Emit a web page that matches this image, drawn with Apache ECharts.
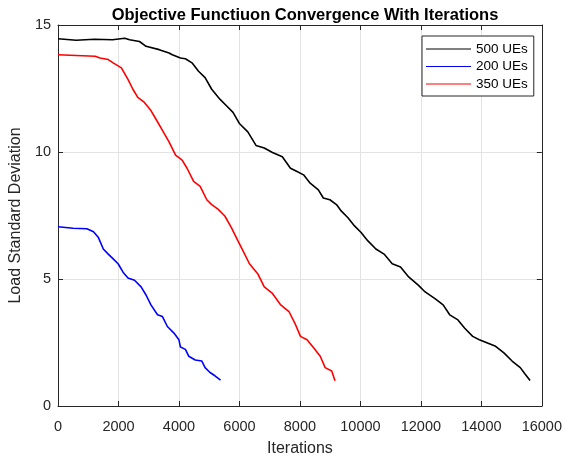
<!DOCTYPE html>
<html>
<head>
<meta charset="utf-8">
<script src="https://cdn.jsdelivr.net/npm/echarts@6/dist/echarts.min.js"></script>
<style>
html,body{margin:0;padding:0;background:#fff;}
#c{width:565px;height:462px;}
</style>
</head>
<body>
<div id="c"></div>
<script>
const titleText = 'Objective Functiuon Convergence With Iterations';
const xName = 'Iterations';
const yName = 'Load Standard Deviation';
const seriesNames = ['500 UEs', '200 UEs', '350 UEs'];
const xTicks = [0, 2000, 4000, 6000, 8000, 10000, 12000, 14000, 16000];
const yTicks = [0, 5, 10, 15];

const ue500X = [0, 600, 1200, 1800, 2205, 2368, 2694, 2910, 3345, 3671, 3779, 4049, 4212, 4430, 4647, 4863, 5082, 5353, 5570, 5787, 6005, 6276, 6547, 6820, 7092, 7418, 7687, 7904, 8120, 8339, 8610, 8773, 8990, 9208, 9371, 9588, 9805, 10023, 10240, 10512, 10782, 11052, 11326, 11596, 11922, 12140, 12466, 12736, 12953, 13225, 13443, 13713, 13932, 14202, 14472, 14746, 15016, 15287, 15450, 15612];
const ue500Y = [14.46, 14.4, 14.44, 14.42, 14.48, 14.42, 14.35, 14.16, 14.03, 13.9, 13.83, 13.7, 13.67, 13.51, 13.18, 12.93, 12.47, 12.08, 11.82, 11.56, 11.11, 10.79, 10.26, 10.16, 9.98, 9.81, 9.36, 9.23, 9.1, 8.77, 8.51, 8.19, 8.12, 7.93, 7.67, 7.41, 7.09, 6.83, 6.51, 6.18, 5.98, 5.6, 5.47, 5.08, 4.75, 4.49, 4.23, 3.98, 3.59, 3.39, 3.07, 2.74, 2.61, 2.48, 2.35, 2.09, 1.77, 1.51, 1.25, 1.0];

const ue200X = [0, 500, 955, 1173, 1336, 1498, 1661, 1824, 1987, 2150, 2313, 2530, 2747, 2910, 3073, 3290, 3453, 3616, 3834, 3997, 4049, 4212, 4322, 4539, 4756, 4863, 5026, 5189, 5375];
const ue200Y = [7.06, 7.0, 6.98, 6.86, 6.63, 6.18, 5.98, 5.79, 5.6, 5.27, 5.04, 4.95, 4.69, 4.37, 3.98, 3.59, 3.52, 3.13, 2.87, 2.61, 2.32, 2.23, 1.96, 1.81, 1.77, 1.51, 1.32, 1.19, 1.02];

const ue350X = [0, 600, 1228, 1390, 1661, 1824, 2095, 2313, 2476, 2638, 2856, 3073, 3236, 3453, 3671, 3888, 4104, 4267, 4484, 4701, 4919, 5082, 5299, 5516, 5733, 5950, 6114, 6330, 6603, 6820, 7092, 7365, 7637, 7855, 8018, 8235, 8453, 8671, 8834, 9051, 9159];
const ue350Y = [13.83, 13.8, 13.77, 13.7, 13.64, 13.51, 13.31, 12.86, 12.47, 12.15, 11.95, 11.63, 11.3, 10.85, 10.4, 9.88, 9.68, 9.36, 8.84, 8.65, 8.12, 7.93, 7.74, 7.48, 7.02, 6.5, 6.12, 5.6, 5.21, 4.69, 4.43, 3.98, 3.72, 3.2, 2.74, 2.61, 2.29, 1.96, 1.51, 1.38, 0.99];

function zip(xs, ys) { return xs.map((x, i) => [x, ys[i]]); }

const axisColor = '#262626';
const gridColor = '#e3e3e3';
const font = '"Liberation Sans", Arial, Helvetica, sans-serif';

const chart = echarts.init(document.getElementById('c'), null, {renderer: 'canvas'});
const baseX = {
  type: 'value', min: xTicks[0], max: xTicks[xTicks.length - 1], interval: xTicks[1] - xTicks[0],
  axisLine: {show: true, onZero: false, lineStyle: {color: axisColor, width: 1}},
  axisTick: {show: true, inside: true, length: 5, lineStyle: {color: axisColor}},
};
const baseY = {
  type: 'value', min: yTicks[0], max: yTicks[yTicks.length - 1], interval: yTicks[1] - yTicks[0],
  axisLine: {show: true, onZero: false, lineStyle: {color: axisColor, width: 1}},
  axisTick: {show: true, inside: true, length: 5, lineStyle: {color: axisColor}},
};
chart.setOption({
  animation: false,
  backgroundColor: '#ffffff',
  title: {
    text: titleText, left: 300, top: 2, textAlign: 'center',
    textStyle: {fontFamily: font, fontSize: 16.5, fontWeight: 'bold', color: '#000'}
  },
  grid: {left: 54, right: 20, top: 25, bottom: 52, containLabel: false},
  legend: {
    data: seriesNames.map(n => ({name: n, icon: 'rect'})), orient: 'vertical', left: 422, top: 36,
    backgroundColor: '#fff', borderColor: axisColor, borderWidth: 1,
    padding: [6, 6, 5, 4], itemWidth: 45, itemHeight: 1.2, itemGap: 3.5,
    textStyle: {fontFamily: font, fontSize: 13.5, color: '#000', lineHeight: 14, height: 14}
  },
  xAxis: [
    Object.assign({}, baseX, {
      position: 'bottom', name: xName, nameLocation: 'middle', nameGap: 35,
      nameTextStyle: {fontFamily: font, fontSize: 16, color: axisColor},
      axisLabel: {fontFamily: font, fontSize: 14.5, color: axisColor, margin: 13, formatter: v => String(v)},
      splitLine: {show: true, lineStyle: {color: gridColor, width: 1}}
    }),
    Object.assign({}, baseX, {position: 'top', axisLabel: {show: false}, splitLine: {show: false}})
  ],
  yAxis: [
    Object.assign({}, baseY, {
      position: 'left', name: yName, nameLocation: 'middle', nameGap: 28, nameRotate: 90,
      nameTextStyle: {fontFamily: font, fontSize: 16, color: axisColor},
      axisLabel: {fontFamily: font, fontSize: 14.5, color: axisColor, margin: 7, formatter: v => String(v)},
      splitLine: {show: true, lineStyle: {color: gridColor, width: 1}}
    }),
    Object.assign({}, baseY, {position: 'right', axisLabel: {show: false}, splitLine: {show: false}})
  ],
  series: [
    {name: seriesNames[0], type: 'line', data: zip(ue500X, ue500Y), symbol: 'none', lineStyle: {color: '#000000', width: 1.6}, itemStyle: {color: '#000000'}},
    {name: seriesNames[1], type: 'line', data: zip(ue200X, ue200Y), symbol: 'none', lineStyle: {color: '#0000ff', width: 1.6}, itemStyle: {color: '#0000ff'}},
    {name: seriesNames[2], type: 'line', data: zip(ue350X, ue350Y), symbol: 'none', lineStyle: {color: '#ff0000', width: 1.6}, itemStyle: {color: '#ff0000'}}
  ]
});
</script>
</body>
</html>
